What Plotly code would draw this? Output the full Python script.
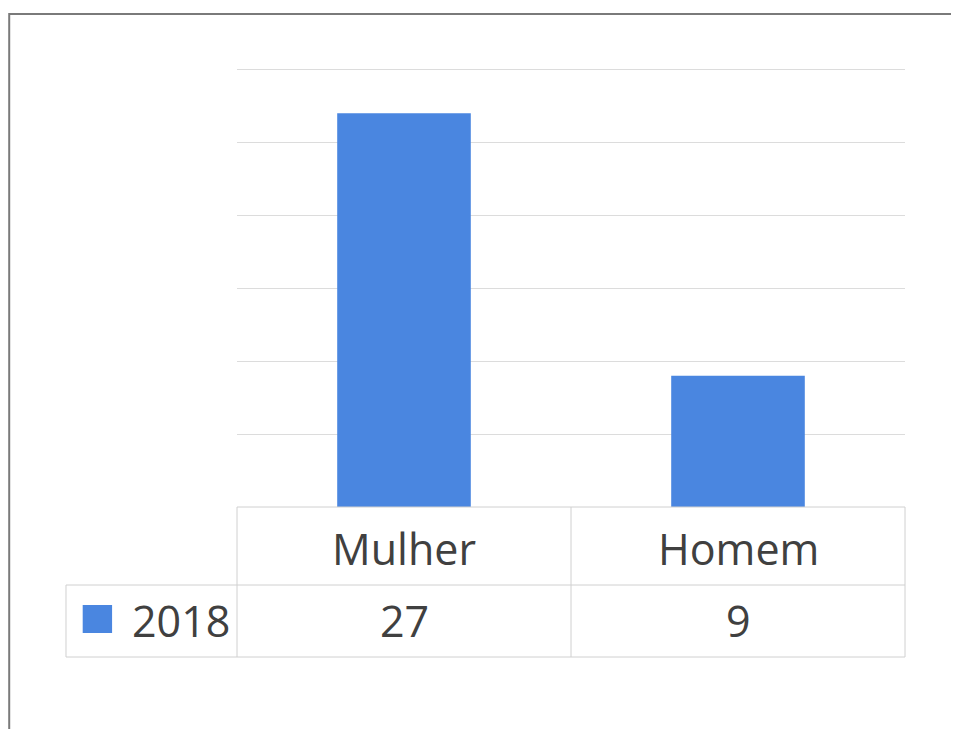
import plotly.graph_objects as go

categories = ['Mulher', 'Homem']
values_2018 = [27, 9]
series_name = '2018'

bar_color = '#4a86e0'
text_color = '#404040'
grid_color = '#dcdcdc'
table_color = '#d0d0d0'
font_family = 'Open Sans'

fig = go.Figure()
fig.add_trace(go.Bar(
    x=categories,
    y=values_2018,
    name=series_name,
    marker=dict(color=bar_color, line=dict(width=0)),
    width=0.4,
    showlegend=False,
))

# data table under the plot: category row, then value row
tfont = dict(size=43, color=text_color, family=font_family)
annotations = []
for cat, val in zip(categories, values_2018):
    annotations.append(dict(x=cat, y=-0.0928, xref='x', yref='paper', text=cat,
                            yanchor='middle', showarrow=False, font=tfont))
    annotations.append(dict(x=cat, y=-0.2557, xref='x', yref='paper', text=str(val),
                            yanchor='middle', showarrow=False, font=tfont))
annotations.append(dict(x=-0.160, y=-0.2557, xref='paper', yref='paper', text=series_name,
                        xanchor='left', yanchor='middle', showarrow=False, font=tfont))

line = dict(color=table_color, width=1)
shapes = [
    # table grid
    dict(type='line', xref='paper', yref='paper', x0=0, x1=1, y0=0, y1=0, line=line),
    dict(type='line', xref='paper', yref='paper', x0=-0.256, x1=1, y0=-0.1765, y1=-0.1765, line=line),
    dict(type='line', xref='paper', yref='paper', x0=-0.256, x1=1, y0=-0.3394, y1=-0.3394, line=line),
    dict(type='line', xref='paper', yref='paper', x0=0, x1=0, y0=0, y1=-0.3394, line=line),
    dict(type='line', xref='paper', yref='paper', x0=0.5, x1=0.5, y0=0, y1=-0.3394, line=line),
    dict(type='line', xref='paper', yref='paper', x0=1, x1=1, y0=0, y1=-0.3394, line=line),
    dict(type='line', xref='paper', yref='paper', x0=-0.256, x1=-0.256, y0=-0.1765, y1=-0.3394, line=line),
    # legend key
    dict(type='rect', xref='paper', yref='paper', x0=-0.231, x1=-0.187, y0=-0.2217, y1=-0.2851,
         fillcolor=bar_color, line=dict(width=0)),
    # outer frame of the scanned chart
    dict(type='rect', xref='paper', yref='paper', x0=-0.341, x1=1.3, y0=1.1154, y1=-0.7,
         line=dict(color='#7a7a7a', width=2)),
]

fig.update_layout(
    width=959, height=729,
    margin=dict(l=229, r=62, t=57, b=230),
    paper_bgcolor='white', plot_bgcolor='white',
    bargap=0.6,
    xaxis=dict(showticklabels=False, showgrid=False, zeroline=False, showline=False),
    yaxis=dict(range=[0, 30.3], tickvals=[5, 10, 15, 20, 25, 30], showticklabels=False,
               showgrid=True, gridcolor=grid_color, gridwidth=1, zeroline=False, showline=False),
    annotations=annotations,
    shapes=shapes,
)

fig.write_html("out.html")
